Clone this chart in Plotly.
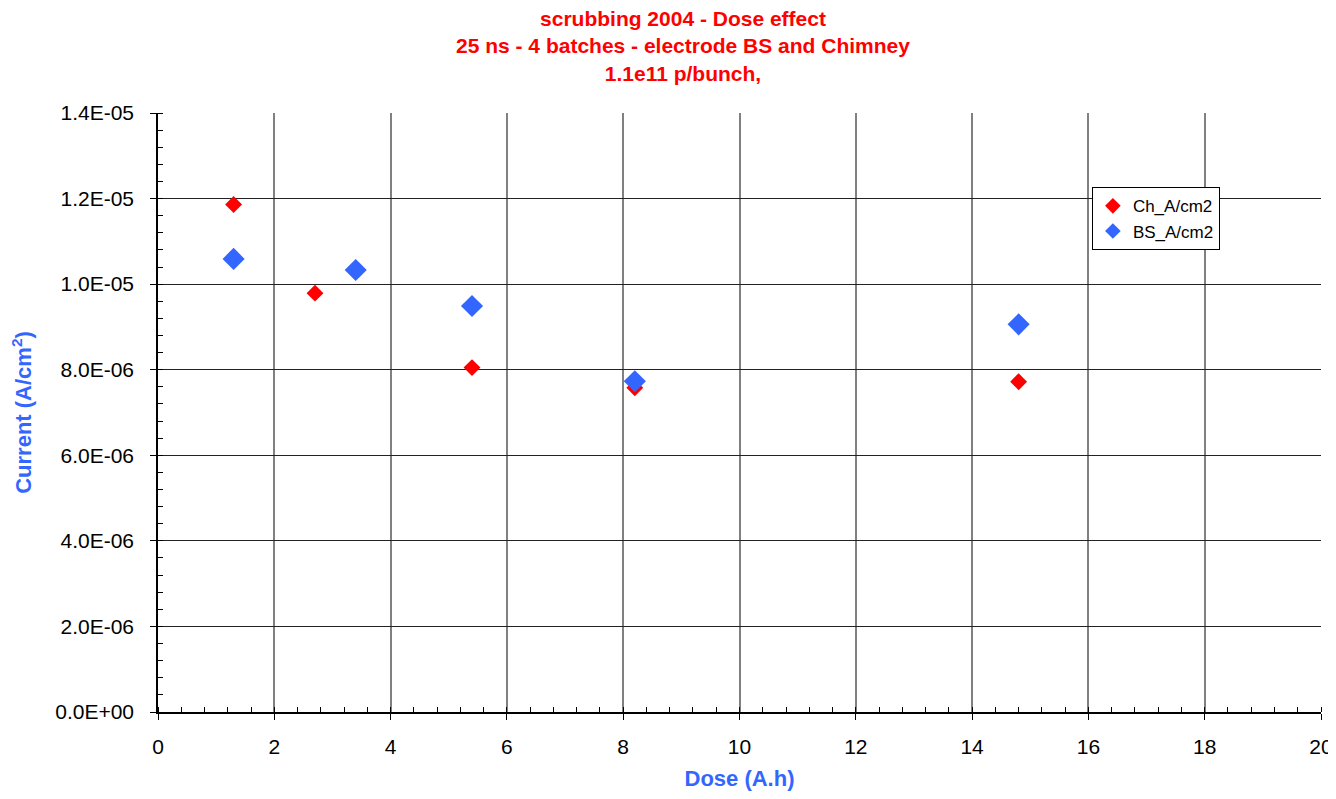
import plotly.graph_objects as go

ch_dose = [1.3, 2.7, 5.4, 8.2, 14.8]
ch_current = [1.186e-5, 9.79e-6, 8.05e-6, 7.58e-6, 7.72e-6]
bs_dose = [1.3, 3.4, 5.4, 8.2, 14.8]
bs_current = [1.059e-5, 1.033e-5, 9.49e-6, 7.73e-6, 9.06e-6]

y_tickvals = [0, 2e-6, 4e-6, 6e-6, 8e-6, 1e-5, 1.2e-5, 1.4e-5]
y_ticktext = ["0.0E+00", "2.0E-06", "4.0E-06", "6.0E-06", "8.0E-06", "1.0E-05", "1.2E-05", "1.4E-05"]

FONT = "Liberation Sans, Arial, sans-serif"
W, H = 1328, 783

fig = go.Figure()
fig.add_trace(go.Scatter(x=ch_dose, y=ch_current, mode="markers", name="Ch_A/cm2",
                         marker=dict(symbol="diamond", size=13, color="#FF0000")))
fig.add_trace(go.Scatter(x=bs_dose, y=bs_current, mode="markers", name="BS_A/cm2",
                         marker=dict(symbol="diamond", size=17, color="#3366FF")))

fig.update_layout(
    width=W, height=H,
    margin=dict(l=150, r=15, t=105, b=79),
    paper_bgcolor="white", plot_bgcolor="white",
    font=dict(family=FONT, color="black"),
    title=dict(text="scrubbing 2004 - Dose effect<br>25 ns - 4 batches - electrode BS and Chimney<br>1.1e11 p/bunch,",
               x=675/W, xanchor="center", xref="container",
               y=1 - 18/H, yanchor="middle", yref="container",
               font=dict(size=21, color="#FF0000", family=FONT, weight="bold")),
    showlegend=True,
    legend=dict(x=0.803, y=0.876, xanchor="left", yanchor="top",
                bgcolor="white", bordercolor="black", borderwidth=1,
                font=dict(size=17, color="black"), tracegroupgap=0, itemsizing="constant"),
)

fig.update_xaxes(
    range=[0, 20], tickvals=list(range(0, 21, 2)),
    showgrid=True, gridcolor="#808080", gridwidth=1.5,
    showline=True, linecolor="black", linewidth=1.5,
    ticks="outside", ticklen=6, tickcolor="black",
    minor=dict(dtick=0.4, ticks="inside", ticklen=5, tickcolor="black", showgrid=False),
    zeroline=False, automargin=False,
    tickfont=dict(size=21, color="black"), ticklabelstandoff=9,
    title=dict(text="Dose (A.h)", font=dict(size=22, color="#3366FF", weight="bold"), standoff=20),
)
fig.update_yaxes(
    range=[0, 1.4e-5], tickvals=y_tickvals, ticktext=y_ticktext,
    showgrid=True, gridcolor="#222222", gridwidth=1,
    showline=True, linecolor="black", linewidth=1.5,
    ticks="outside", ticklen=6, tickcolor="black",
    minor=dict(dtick=4e-7, ticks="inside", ticklen=5, tickcolor="black", showgrid=False),
    zeroline=False, automargin=False,
    tickfont=dict(size=21, color="black"), ticklabelstandoff=12,
    title=dict(text="Current (A/cm<sup>2</sup>)", font=dict(size=22, color="#3366FF", weight="bold"), standoff=18),
)

fig.write_html("out.html")
